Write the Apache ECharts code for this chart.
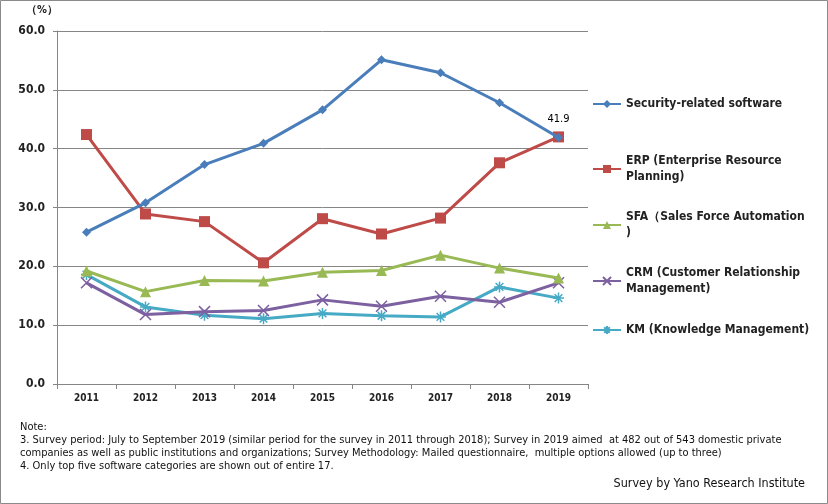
<!DOCTYPE html>
<html><head><meta charset="utf-8">
<script src="https://cdn.jsdelivr.net/npm/echarts@6/dist/echarts.min.js"></script>
<style>html,body{margin:0;padding:0;background:#fff}#c{width:828px;height:504px}</style>
</head><body><div id="c"></div>
<script>
const years = ['2011','2012','2013','2014','2015','2016','2017','2018','2019'];
const security = [25.8, 30.8, 37.3, 40.9, 46.6, 55.1, 52.9, 47.8, 41.9];
const erp = [42.4, 28.9, 27.6, 20.6, 28.1, 25.5, 28.2, 37.6, 42.0];
const sfa = [19.2, 15.7, 17.6, 17.5, 19.0, 19.3, 21.9, 19.7, 18.0];
const crm = [17.2, 11.8, 12.3, 12.5, 14.3, 13.2, 14.9, 13.9, 17.2];
const km = [18.6, 13.1, 11.7, 11.1, 12.0, 11.6, 11.4, 16.5, 14.6];
const yTicks = [0, 10, 20, 30, 40, 50, 60];
const names = ['Security-related software','ERP (Enterprise Resource\nPlanning)','SFA（Sales Force Automation\n)','CRM (Customer Relationship\nManagement)','KM (Knowledge Management)'];
const notes = ['Note:',
 '3. Survey period: July to September 2019 (similar period for the survey in 2011 through 2018); Survey in 2019 aimed  at 482 out of 543 domestic private',
 'companies as well as public institutions and organizations; Survey Methodology: Mailed questionnaire,  multiple options allowed (up to three)',
 '4. Only top five software categories are shown out of entire 17.'];
const credit = 'Survey by Yano Research Institute';

const colors = ['#4a7ebb','#be4b48','#98b954','#7d60a0','#46aac5'];
const font = '"Liberation Sans Narrow","DejaVu Sans Condensed",sans-serif';
const chart = echarts.init(document.getElementById('c'));
const crossPath = 'path://M0,0L10,10M10,0L0,10';
const starPath = 'path://M0,5L10,5M5,0L5,10M1.5,1.5L8.5,8.5M8.5,1.5L1.5,8.5';
const symbols = ['diamond','rect','triangle',crossPath,starPath];
const sizes = [9,11,11,11,11];
const datas = [security, erp, sfa, crm, km];
const legendTops = [96, 153, 209, 265, 322];

const series = datas.map((d,i)=>({
  name: names[i], type:'line', data:d, symbol:symbols[i], symbolSize:sizes[i],
  lineStyle:{width:3,color:colors[i]},
  itemStyle:{color: i>=3 ? 'none' : colors[i], borderColor:colors[i], borderWidth: i>=3?1.5:0},
  z: 10-i,
  label: i===0 ? {show:true, position:'top', distance:8, color:'#000', fontSize:11, fontFamily:font,
     formatter:p=> p.dataIndex===d.length-1 ? p.value.toFixed(1) : ''} : {show:false}
}));

chart.setOption({
  animation:false,
  color: colors,
  grid:{left:57,right:240,top:31,bottom:120},
  legend: names.map((n,i)=>({data:[n], orient:'vertical', left:592, top:legendTops[i], padding:0,
     itemWidth:28, itemHeight:10, itemGap:4,
     textStyle:{fontSize:12, fontWeight:'bold', color:'#222', fontFamily:'"DejaVu Sans Condensed",sans-serif', lineHeight:16}})),
  xAxis:{type:'category', data:years, boundaryGap:true,
    axisLine:{lineStyle:{color:'#868686'}}, axisTick:{show:true, length:5, lineStyle:{color:'#868686'}},
    axisLabel:{fontSize:10, fontWeight:'bold', color:'#222', fontFamily:'"DejaVu Sans Condensed",sans-serif', margin:9}},
  yAxis:{type:'value', min:yTicks[0], max:yTicks[yTicks.length-1], interval:10,
    axisLine:{show:true, lineStyle:{color:'#868686'}}, axisTick:{show:true, length:4, lineStyle:{color:'#868686'}},
    splitLine:{lineStyle:{color:'#868686', width:1}},
    axisLabel:{fontSize:12, color:'#222', fontFamily:font, fontWeight:'bold', margin:12, formatter:v=>v.toFixed(1)}},
  series: series,
  graphic:[
    {type:'rect', shape:{x:0.5,y:0.5,width:827,height:503}, style:{fill:'none', stroke:'#8a8a8a', lineWidth:1}, silent:true},
    {type:'text', left:26, top:5, style:{text:'（%）', fontSize:11, fontWeight:'bold', fill:'#222', fontFamily:'"DejaVu Sans Condensed",sans-serif'}},
    ...notes.map((t,i)=>({type:'text', left:20, top:422+i*13, style:{text:t, fontSize:11, fill:'#111', fontFamily:font}})),
    {type:'text', right:23, top:477, style:{text:credit, fontSize:12.5, fill:'#111', fontFamily:font}}
  ]
});
</script></body></html>
